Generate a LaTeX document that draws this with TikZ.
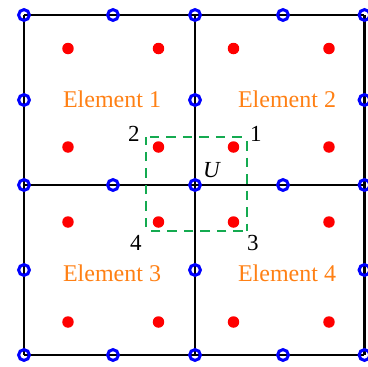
\documentclass[tikz,border=0pt]{standalone}
\usepackage{fontspec}
\setmainfont{Liberation Serif}
\definecolor{elorange}{RGB}{255,128,20}
\definecolor{dashgreen}{RGB}{20,170,80}
\definecolor{nodeblue}{RGB}{0,0,255}
\definecolor{dotred}{RGB}{255,0,0}
\begin{document}
\begin{tikzpicture}[x=1pt,y=-1pt,
  gridline/.style={line width=2.2pt,black},
  bnode/.style={circle,draw=nodeblue,line width=3pt,minimum size=10.8pt,inner sep=0pt},
  rdot/.style={circle,fill=dotred,minimum size=11.5pt,inner sep=0pt},
  ellabel/.style={text=elorange,font=\fontsize{24}{26}\selectfont},
  numlabel/.style={font=\fontsize{23}{25}\selectfont},
  box/.style={dashgreen,line width=2.3pt,dash pattern=on 9.5pt off 7pt}]
\useasboundingbox (0,0) rectangle (368,367);
% grid coordinates
\foreach \xn/\xv in {0/24,1/113,2/195,3/283,4/364.5}{
  \foreach \yn/\yv in {0/15,1/100,2/185,3/270,4/355}{
    \coordinate (g\xn\yn) at (\xv,\yv);
  }
}
\foreach \r in {0,2,4}{
  \draw[gridline] (g0\r) -- (g4\r);
  \draw[gridline] (g\r0) -- (g\r4);
}
% green dashed box
\coordinate (b1) at (247,137);
\coordinate (b2) at (146,137);
\coordinate (b3) at (247,231);
\coordinate (b4) at (146,231);
\draw[box,dash phase=-4pt] (b2) -- (b1);
\draw[box,dash phase=-4pt] (b1) -- (b3);
\draw[box,dash phase=-4pt] (b3) -- (b4);
\draw[box,dash phase=-4pt] (b4) -- (b2);
% red dots
\foreach \xn/\xv in {0/68,1/158.5,2/233.5,3/329}{
  \foreach \yn/\yv in {0/48.5,1/147,2/222,3/322}{
    \node[rdot] (r\xn\yn) at (\xv,\yv) {};
  }
}
% blue nodes
\foreach \xn in {0,2,4}{
  \foreach \yn in {0,1,2,3,4}{
    \node[bnode] (n\xn\yn) at (g\xn\yn) {};
  }
}
\foreach \xn in {1,3}{
  \foreach \yn in {0,2,4}{
    \node[bnode] (n\xn\yn) at (g\xn\yn) {};
  }
}
% labels
\node[ellabel] (e1) at (112,99) {Element 1};
\node[ellabel] (e2) at (287,99) {Element 2};
\node[ellabel] (e3) at (112,273) {Element 3};
\node[ellabel] (e4) at (287,273) {Element 4};
\node[numlabel] (l1) at (256,134) {1};
\node[numlabel] (l2) at (134,134) {2};
\node[numlabel] (l3) at (253,243) {3};
\node[numlabel] (l4) at (136,243) {4};
\node[numlabel] (lu) at (212,170) {\textit{U}};
\end{tikzpicture}
\end{document}
